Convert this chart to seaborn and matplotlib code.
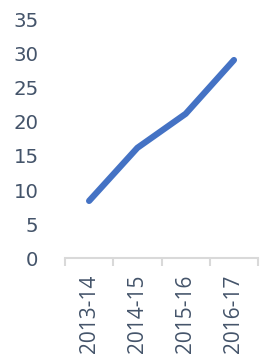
import matplotlib
matplotlib.use("Agg")
import matplotlib.pyplot as plt
import seaborn as sns
import pandas as pd
from matplotlib.ticker import FixedLocator

years = ["2013-14", "2014-15", "2015-16", "2016-17"]
values = [8.4, 16.2, 21.2, 29.1]
yticks = [0, 5, 10, 15, 20, 25, 30, 35]

sns.set_theme(style="white")
plt.rcParams['font.family'] = ['Open Sans', 'DejaVu Sans']

df = pd.DataFrame({"year": years, "value": values})

fig = plt.figure(figsize=(2.62, 3.55), dpi=100)
ax = fig.add_axes([0.248, 0.273, 0.737, 0.671])

sns.lineplot(data=df, x="year", y="value", ax=ax, color="#4472C4",
             linewidth=4.5, sort=False, solid_capstyle="round",
             solid_joinstyle="round")

ax.set_xlim(-0.5, len(years) - 0.5)
ax.set_ylim(0, 35)
ax.set_xlabel("")
ax.set_ylabel("")

txt = "#44546A"
ax.set_yticks(yticks, labels=[str(v) for v in yticks],
              fontfamily="DejaVu Sans", fontsize=14.2, color=txt)

for s in ["top", "right", "left"]:
    ax.spines[s].set_visible(False)
ax.spines["bottom"].set_color("#D9D9D9")
ax.spines["bottom"].set_linewidth(1.5)

ax.xaxis.set_minor_locator(FixedLocator([i - 0.5 for i in range(len(years) + 1)]))
ax.tick_params(axis="x", which="minor", length=6, width=1.5, color="#D9D9D9", bottom=True)
ax.tick_params(axis="x", which="major", length=0, pad=12, labelsize=15,
               labelcolor=txt, rotation=90)
ax.tick_params(axis="y", length=0, pad=19)
ax.grid(False)

fig.savefig("out.png", dpi=100)
